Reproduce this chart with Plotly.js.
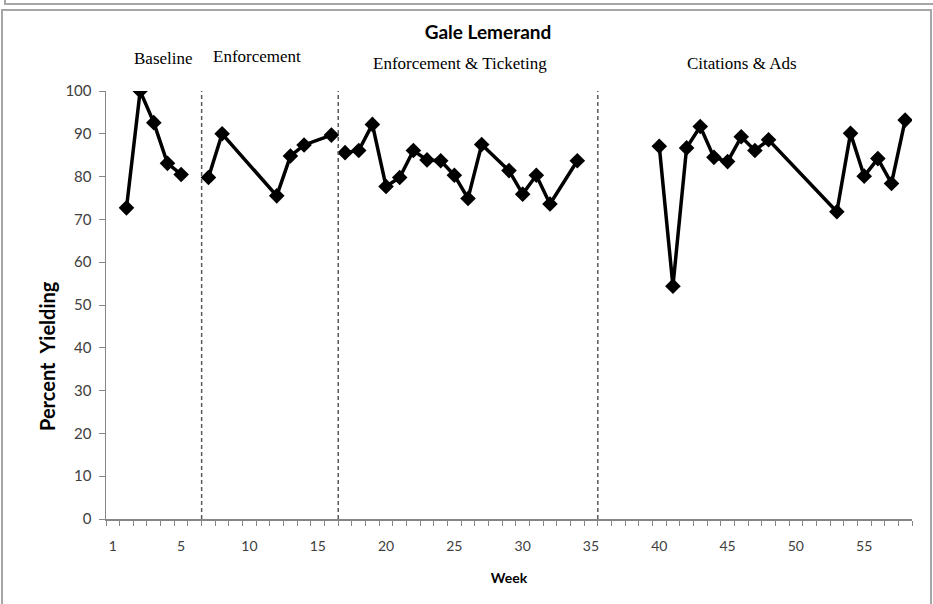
<!DOCTYPE html>
<html>
<head>
<meta charset="utf-8">
<script src="https://cdn.plot.ly/plotly-3.0.1.min.js"></script>
<style>
  html, body { margin: 0; padding: 0; background: #fff; }
  #wrap { position: relative; width: 933px; height: 604px; overflow: hidden; }
  #chart { position: absolute; left: 0; top: 0; width: 933px; height: 604px; }
  .frame { position: absolute; border: 2px solid #a6a6a6; pointer-events: none; }
</style>
</head>
<body>
<div id="wrap">
  <div id="chart"></div>
  <div class="frame" style="left:4px; top:-20px; width:940px; height:21px;"></div>
  <div class="frame" style="left:1px; top:9px; width:927px; height:610px;"></div>
</div>
<script>
// Phase data (week, percent yielding)
const baselineWeeks = [1, 2, 3, 4, 5];
const baselineVals  = [72.7, 100, 92.6, 83.1, 80.5];

const enforcementWeeks = [7, 8, 12, 13, 14, 16];
const enforcementVals  = [79.8, 90.0, 75.5, 84.8, 87.4, 89.7];

const ticketingWeeks = [17, 18, 19, 20, 21, 22, 23, 24, 25, 26, 27, 29, 30, 31, 32, 34];
const ticketingVals  = [85.6, 86.1, 92.2, 77.7, 79.8, 86.1, 83.9, 83.7, 80.3, 74.9, 87.5, 81.4, 75.9, 80.3, 73.6, 83.7];

const citationsWeeks = [40, 41, 42, 43, 44, 45, 46, 47, 48, 53, 54, 55, 56, 57, 58];
const citationsVals  = [87.1, 54.4, 86.7, 91.7, 84.5, 83.5, 89.3, 86.1, 88.6, 71.8, 90.1, 80.1, 84.2, 78.4, 93.2];

const phaseBreaks = [6.5, 16.5, 35.5];
const phaseNames = ["Baseline", "Enforcement", "Enforcement & Ticketing", "Citations & Ads"];

const xTickVals = [0, 5, 10, 15, 20, 25, 30, 35, 40, 45, 50, 55];
const xTickText = ["1", "5", "10", "15", "20", "25", "30", "35", "40", "45", "50", "55"];
const yTickVals = [0, 10, 20, 30, 40, 50, 60, 70, 80, 90, 100];

const W = 933, H = 604;
const L = 106, R = 21, T = 91, B = 85;
const pw = W - L - R, ph = H - T - B;
function px2paperX(px) { return (px - L) / pw; }
function px2paperY(py) { return (H - B - py) / ph; }

function series(xs, ys) {
  return {
    x: xs, y: ys, type: 'scatter', mode: 'lines+markers',
    line: { color: '#000', width: 3.5 },
    marker: { symbol: 'diamond', size: 12, color: '#000' },
    showlegend: false, hoverinfo: 'x+y'
  };
}

const data = [
  series(baselineWeeks, baselineVals),
  series(enforcementWeeks, enforcementVals),
  series(ticketingWeeks, ticketingVals),
  series(citationsWeeks, citationsVals)
];

const shapes = phaseBreaks.map(b => ({
  type: 'line', xref: 'x', yref: 'y', x0: b, x1: b, y0: 0, y1: 100,
  line: { color: '#595959', width: 1.5, dash: '4px,3px' }
}));

const labelPos = [[163, 58], [257, 56], [460, 63], [742, 63]];
const annotations = phaseNames.map((n, i) => ({
  text: n, xref: 'paper', yref: 'paper',
  x: px2paperX(labelPos[i][0]), y: px2paperY(labelPos[i][1]),
  xanchor: 'center', yanchor: 'middle', showarrow: false,
  font: { family: 'Liberation Serif, serif', size: 17, color: '#000' }
}));
annotations.push({
  text: '<b>Percent  Yielding</b>', xref: 'paper', yref: 'paper',
  x: px2paperX(47), y: px2paperY(356), textangle: -90,
  xanchor: 'center', yanchor: 'middle', showarrow: false,
  font: { family: 'Lato, sans-serif', size: 20, color: '#000' }
});

const layout = {
  width: W, height: H,
  margin: { l: L, r: R, t: T, b: B, pad: 0 },
  paper_bgcolor: 'rgba(0,0,0,0)', plot_bgcolor: 'rgba(0,0,0,0)',
  title: {
    text: '<b>Gale Lemerand</b>', xref: 'container', yref: 'container',
    x: 488 / W, y: 1 - 32 / H, xanchor: 'center', yanchor: 'middle',
    font: { family: 'Lato, sans-serif', size: 19, color: '#000' }
  },
  xaxis: {
    range: [-0.5, 58.5], tickmode: 'array', tickvals: xTickVals, ticktext: xTickText,
    showgrid: false, zeroline: false, showline: true, linecolor: '#868686', linewidth: 1.5,
    ticks: '', ticklabelstandoff: 14,
    tickfont: { family: 'Lato, sans-serif', size: 14, color: '#404040' },
    minor: { tickmode: 'linear', tick0: 0.5, dtick: 1, ticks: 'outside', ticklen: 5, tickcolor: '#868686', tickwidth: 1, showgrid: false },
    title: { text: '<b>Week</b>', standoff: 20, font: { family: 'Lato, sans-serif', size: 14, color: '#000' } }
  },
  yaxis: {
    range: [0, 100], tickmode: 'array', tickvals: yTickVals,
    showgrid: false, zeroline: false, showline: true, linecolor: '#868686', linewidth: 1.5,
    ticks: 'outside', ticklen: 6, tickcolor: '#868686', tickwidth: 1, ticklabelstandoff: 4,
    tickfont: { family: 'Lato, sans-serif', size: 15, color: '#404040' }
  },
  shapes: shapes,
  annotations: annotations
};

Plotly.newPlot('chart', data, layout, { displayModeBar: false, staticPlot: true });
</script>
</body>
</html>
